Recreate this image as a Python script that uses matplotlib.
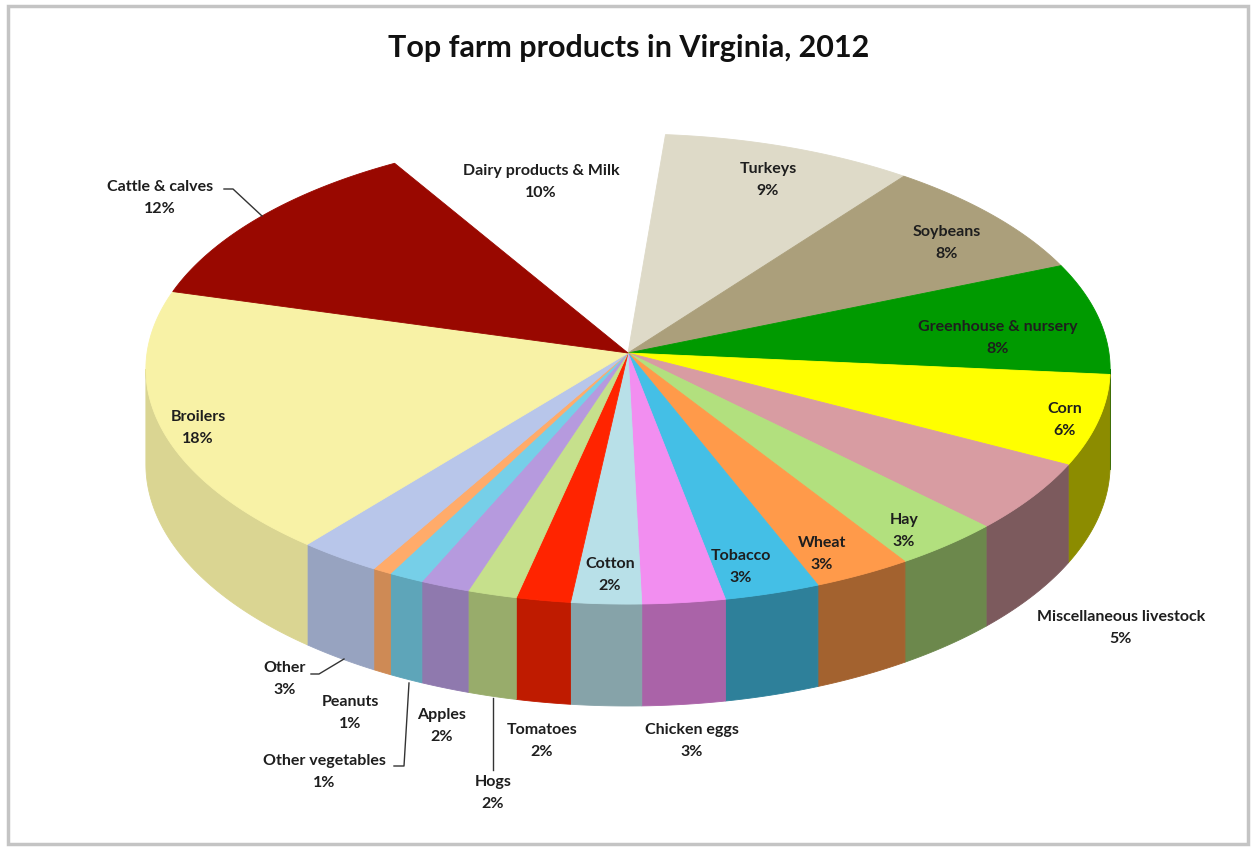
import numpy as np
import matplotlib.pyplot as plt
from matplotlib.patches import Polygon, Rectangle
from matplotlib.colors import to_rgb

plt.rcParams['font.family'] = ['Lato', 'DejaVu Sans']

# data, clockwise from the top of the pie (percent of sales)
products = ["Dairy products & Milk", "Turkeys", "Soybeans", "Greenhouse & nursery",
            "Corn", "Miscellaneous livestock", "Hay", "Wheat", "Tobacco",
            "Chicken eggs", "Cotton", "Tomatoes", "Hogs", "Apples",
            "Other vegetables", "Peanuts", "Other", "Broilers", "Cattle & calves"]
shares = [9.9, 9.0, 8.4, 7.7, 6.2, 4.8, 3.4, 3.1, 3.0, 2.6, 2.2, 1.7, 1.55, 1.55,
          1.1, 0.6, 2.6, 18.4, 12.1]
colors = ["#ffffff", "#dedac8", "#ab9f7b", "#009a00", "#ffff00",
          "#d89ca2", "#b2e07e", "#ff9a4a", "#44bfe6", "#f28ef0", "#b8e0e8",
          "#ff2400", "#c6e08c", "#b69ade", "#76cfe8", "#ffab6a", "#b8c6ea",
          "#f8f2a6", "#990800"]

# label positions (pixels) and leader lines
label_pos = {
    "Dairy products & Milk": (541, 182), "Turkeys": (768, 180), "Soybeans": (947, 243),
    "Greenhouse & nursery": (998, 338), "Corn": (1065, 420),
    "Miscellaneous livestock": (1121, 628), "Hay": (904, 531), "Wheat": (822, 554),
    "Tobacco": (741, 567), "Chicken eggs": (692, 741), "Cotton": (610, 575),
    "Tomatoes": (542, 741), "Hogs": (493, 793), "Apples": (442, 726),
    "Other vegetables": (324, 772), "Peanuts": (350, 713), "Other": (285, 679),
    "Broilers": (198, 428), "Cattle & calves": (160, 198),
}
leaders = [
    [(224, 189), (233, 189), (262, 216)],
    [(311, 674), (319, 674), (344, 659)],
    [(394, 766), (404, 766), (409, 683)],
    [(493, 770), (493, 698)],
]

# 3d pie geometry (pixels)
CX, CY = 628, 353
A, B, P = 234, 481, 0.068
DEPTH = 95
START = -30.9


def proj(th, z=0.0):
    X, Y = np.sin(th), np.cos(th)
    s = 1.0 / (1.0 + P * Y)
    return CX + B * X * s, CY - A * Y * s + DEPTH * z * s


def shade(c, th):
    f = 0.72 - 0.18 * np.sin(th)
    return tuple(min(1.0, v * f) for v in to_rgb(c))


fig = plt.figure(figsize=(12.55, 8.5), dpi=100)
ax = fig.add_axes([0, 0, 1, 1])
ax.set_xlim(0, 1255)
ax.set_ylim(850, 0)
ax.axis('off')

ax.add_patch(Rectangle((8, 6), 1240, 838, fill=False, ec="#c4c4c4", lw=2.5))

vals = np.array(shares, dtype=float)
edges = np.radians(START) + 2 * np.pi * np.concatenate([[0], np.cumsum(vals)]) / vals.sum()
lo = np.arccos(-P)
hi = 2 * np.pi - lo

# side walls (front part only)
for i in range(len(vals)):
    a0 = edges[i] % (2 * np.pi)
    a1 = a0 + (edges[i + 1] - edges[i])
    for off in (0, 2 * np.pi, -2 * np.pi):
        b0, b1 = max(a0 + off, lo), min(a1 + off, hi)
        if b1 <= b0:
            continue
        t = np.linspace(b0, b1, 60)
        xt, yt = proj(t)
        xb, yb = proj(t[::-1], 1.0)
        col = shade(colors[i], 0.5 * (b0 + b1))
        ax.add_patch(Polygon(np.column_stack([np.r_[xt, xb], np.r_[yt, yb]]),
                             closed=True, fc=col, ec=col, lw=0.6))

# top faces
for i in range(len(vals)):
    t = np.linspace(edges[i], edges[i + 1], 80)
    xt, yt = proj(t)
    ax.add_patch(Polygon(np.column_stack([np.r_[CX, xt], np.r_[CY, yt]]),
                         closed=True, fc=colors[i], ec=colors[i], lw=0.6))

for name, v in zip(products, shares):
    x, y = label_pos[name]
    ax.text(x, y, f"{name}\n{v:.0f}%", ha='center', va='center', fontsize=11.5,
            fontweight='bold', color="#1e1e1e", linespacing=1.65)

for pts in leaders:
    xs, ys = zip(*pts)
    ax.plot(xs, ys, color="#333333", lw=1)

ax.text(629, 48, "Top farm products in Virginia, 2012", ha='center', va='center',
        fontsize=22, fontweight='bold', color="#111111")

fig.savefig("out.png", dpi=100)
